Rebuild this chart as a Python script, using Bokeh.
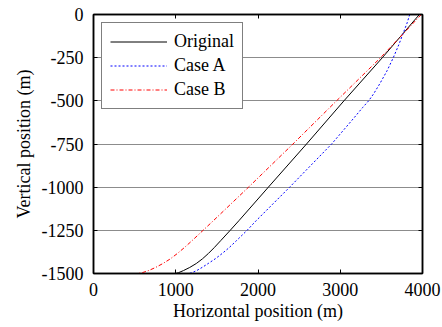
from bokeh.plotting import figure
from bokeh.models import LinearAxis, FixedTicker, Range1d, Legend, LegendItem
from bokeh.embed import file_html
from bokeh.resources import INLINE

# Data
orig_depth = [0, -125, -250, -500, -750, -1000, -1193, -1251, -1309, -1350, -1384,
              -1415, -1442, -1465, -1483, -1495, -1500]
original = [3962, 3737, 3512, 3045, 2590, 2126, 1770, 1660, 1548, 1468, 1397,
            1325, 1250, 1170, 1094, 1035, 996]

a_depth = [0, -50, -100, -175, -250, -325, -400, -460, -500, -540, -600, -750,
           -1000, -1193, -1251, -1309, -1350, -1384, -1415, -1442, -1465, -1483,
           -1495, -1500]
case_a = [3845, 3812, 3772, 3712, 3645, 3570, 3482, 3405, 3345, 3270, 3165, 2895,
          2385, 1980, 1865, 1740, 1650, 1565, 1480, 1395, 1320, 1255, 1200, 1160]

b_depth = [0, -125, -250, -500, -750, -1000, -1193, -1251, -1309, -1350, -1384,
           -1415, -1442, -1465, -1483, -1495, -1500]
case_b = [3985, 3740, 3490, 2955, 2425, 1885, 1460, 1330, 1200, 1105, 1020,
          935, 845, 755, 670, 595, 540]

x_ticks = [0, 1000, 2000, 3000, 4000]
x_tick_labels = ["0", "1000", "2000", "3000", "4000"]
y_ticks = [0, -250, -500, -750, -1000, -1250, -1500]
y_tick_labels = ["0", "-250", "-500", "-750", "-1000", "-1250", "-1500"]

FONT = "Liberation Serif"
FS = "18px"

p = figure(width=442, height=327, output_backend="svg", toolbar_location=None,
           x_range=Range1d(0, 4000), y_range=Range1d(-1500, 0),
           min_border_left=93, min_border_right=20, min_border_top=14,
           min_border_bottom=54)
p.background_fill_color = "white"
p.border_fill_color = "white"
p.outline_line_color = "black"
p.outline_line_width = 1.5

r0 = p.line(original, orig_depth, line_color="black", line_width=1)
r1 = p.line(case_a, a_depth, line_color="blue", line_width=1, line_dash="2 2")
r2 = p.line(case_b, b_depth, line_color="red", line_width=1, line_dash="4 2 1 2")

# main axes
xa = p.xaxis[0]
xa.ticker = FixedTicker(ticks=x_ticks)
xa.major_label_overrides = {t: l for t, l in zip(x_ticks, x_tick_labels)}
xa.axis_label = "Horizontal position (m)"
ya = p.yaxis[0]
ya.ticker = FixedTicker(ticks=y_ticks)
ya.major_label_overrides = {t: l for t, l in zip(y_ticks, y_tick_labels)}
ya.axis_label = "Vertical position (m)"

for ax in (xa, ya):
    ax.major_label_text_font = FONT
    ax.major_label_text_font_size = FS
    ax.major_label_text_color = "black"
    ax.axis_label_text_font = FONT
    ax.axis_label_text_font_size = FS
    ax.axis_label_text_font_style = "normal"
    ax.axis_label_text_color = "black"
    ax.axis_line_color = "black"
    ax.axis_line_width = 1.5
    ax.major_tick_in = 4
    ax.major_tick_out = 0
    ax.minor_tick_line_color = None
xa.major_label_standoff = 9
xa.axis_label_standoff = 2
ya.major_label_standoff = 10
ya.axis_label_standoff = 5

# mirrored axes (ticks only)
top = LinearAxis(ticker=FixedTicker(ticks=x_ticks),
                 major_label_overrides={t: "" for t in x_ticks},
                 major_tick_in=4, major_tick_out=0, minor_tick_line_color=None,
                 axis_line_color="black", axis_line_width=1.5, major_label_standoff=0)
right = LinearAxis(ticker=FixedTicker(ticks=y_ticks),
                   major_label_overrides={t: "" for t in y_ticks},
                   major_tick_in=4, major_tick_out=0, minor_tick_line_color=None,
                   axis_line_color="black", axis_line_width=1.5, major_label_standoff=0)
p.add_layout(top, "above")
p.add_layout(right, "right")

p.xgrid.grid_line_color = None
p.ygrid.ticker = FixedTicker(ticks=y_ticks)
p.ygrid.grid_line_color = "#8c8c8c"
p.ygrid.grid_line_width = 1

legend = Legend(items=[LegendItem(label="Original", renderers=[r0]),
                       LegendItem(label="Case A", renderers=[r1]),
                       LegendItem(label="Case B", renderers=[r2])],
                location="top_left")
legend.margin = 8
legend.padding = 8
legend.spacing = 3
legend.glyph_width = 57
legend.glyph_height = 19
legend.label_height = 19
legend.label_standoff = 7
legend.label_text_font = FONT
legend.label_text_font_size = FS
legend.label_text_color = "black"
legend.border_line_color = "black"
legend.border_line_width = 1.5
legend.background_fill_color = "white"
legend.background_fill_alpha = 1
p.add_layout(legend)

open("out.html", "w").write(file_html(p, INLINE))
